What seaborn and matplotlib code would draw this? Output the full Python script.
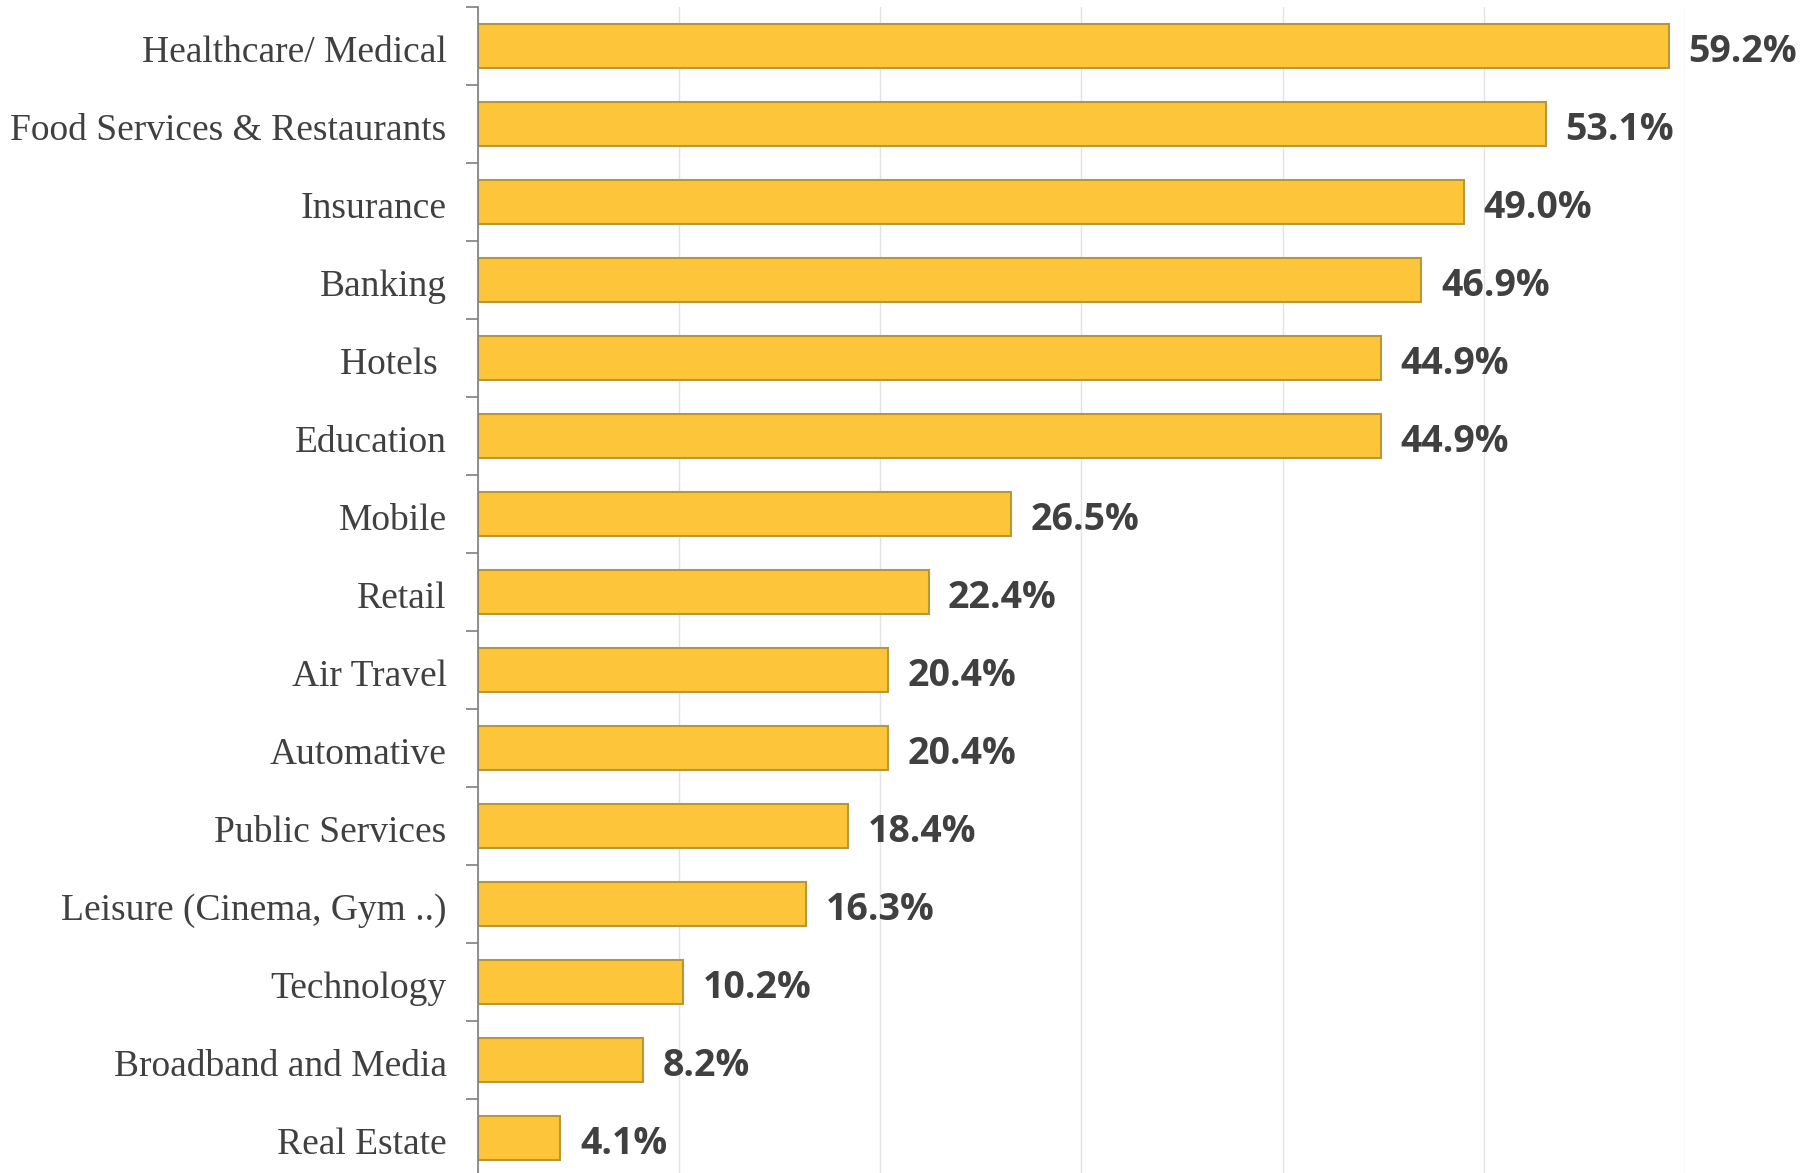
import numpy as np
import pandas as pd
import matplotlib
matplotlib.use("Agg")
import matplotlib.pyplot as plt
import matplotlib.transforms as mtransforms
import seaborn as sns

categories = ["Healthcare/ Medical", "Food Services & Restaurants", "Insurance", "Banking",
              "Hotels ", "Education", "Mobile", "Retail", "Air Travel", "Automative",
              "Public Services", "Leisure (Cinema, Gym ..)", "Technology",
              "Broadband and Media", "Real Estate"]
values = [59.2, 53.1, 49.0, 46.9, 44.9, 44.9, 26.5, 22.4, 20.4, 20.4, 18.4, 16.3, 10.2, 8.2, 4.1]

df = pd.DataFrame({"category": categories, "value": values})

sns.set_theme(style="white")
fig = plt.figure(figsize=(18.07, 11.73), dpi=100)
ax = fig.add_axes([0.2645, -0.0034, 0.668, 0.9974])

sns.barplot(data=df, x="value", y="category", orient="h", ax=ax,
            color="#FDC63A", width=0.57, edgecolor="#B8963A", linewidth=1.5,
            saturation=1)

ax.set_xlim(0, 60)
ax.set_ylim(len(categories) - 0.5, -0.5)
ax.set_xticks(np.arange(0, 61, 10))
ax.xaxis.grid(True, color="#E3E3E3", linewidth=1)
ax.set_axisbelow(True)
ax.tick_params(axis="x", bottom=False, labelbottom=False)
ax.set_xlabel("")
ax.set_ylabel("")

for s in ["top", "right", "bottom"]:
    ax.spines[s].set_visible(False)
ax.spines["left"].set_color("#7F7F7F")
ax.spines["left"].set_linewidth(1.2)

ax.set_yticks(np.arange(len(categories)))
ax.set_yticklabels(categories, fontfamily="Liberation Serif", fontsize=27, color="#404040")
ax.tick_params(axis="y", which="major", length=0, pad=22.5)
ax.set_yticks(np.arange(-0.5, len(categories), 1), minor=True)
ax.tick_params(axis="y", which="minor", length=9, width=1.2, color="#7F7F7F", left=True)

shift = mtransforms.ScaledTranslation(0, -2.3 / 100, fig.dpi_scale_trans)
for lbl in ax.get_yticklabels():
    lbl.set_transform(lbl.get_transform() + shift)

for i, v in enumerate(values):
    ax.annotate(f"{v:.1f}%", xy=(v, i), xytext=(14, -4), textcoords="offset points",
                ha="left", va="center", fontsize=27, fontweight="bold",
                fontfamily="Open Sans", color="#404040", annotation_clip=False)

fig.savefig("out.png", dpi=100)
